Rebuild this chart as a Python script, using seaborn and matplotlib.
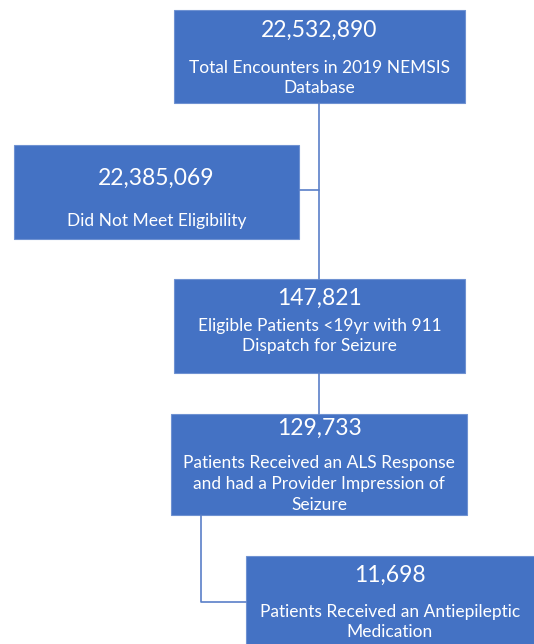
import matplotlib
matplotlib.use("Agg")
import matplotlib.pyplot as plt
import matplotlib.patches as mpatches
import seaborn as sns

# valores del diagrama de flujo
conteos = ["22,532,890", "22,385,069", "147,821", "129,733", "11,698"]
etiquetas = [
    "Total Encounters in 2019 NEMSIS\nDatabase",
    "Did Not Meet Eligibility",
    "Eligible Patients <19yr with 911\nDispatch for Seizure",
    "Patients Received an ALS Response\nand had a Provider Impression of\nSeizure",
    "Patients Received an Antiepileptic\nMedication",
]

# cajas en pixeles: x0, y0, x1, y1
cajas = [
    (174, 10, 465, 103),
    (14, 145, 299, 239),
    (174, 279, 465, 373),
    (171, 414, 467, 515),
    (246, 556, 540, 650),
]
# posicion vertical del numero y de la etiqueta
y_num = [30, 178, 298, 428, 575]
y_lab = [78, 221, 336, 484, 622]

sns.set_theme(style="white")
plt.rcParams['font.family'] = ['Lato', 'DejaVu Sans']

azul = "#4472C4"
linea = "#5A7FC8"

fig = plt.figure(figsize=(5.34, 6.44), dpi=100)
ax = fig.add_axes([0, 0, 1, 1])
ax.set_xlim(0, 534)
ax.set_ylim(644, 0)
ax.axis("off")

# conectores
ax.plot([319, 319], [103, 279], color=linea, lw=1.2)
ax.plot([299, 319], [190, 190], color=linea, lw=1.2)
ax.plot([319, 319], [373, 414], color=linea, lw=1.2)
ax.plot([201, 201, 246], [515, 602, 602], color=linea, lw=1.2)

for (x0, y0, x1, y1), n, t, yn, yl in zip(cajas, conteos, etiquetas, y_num, y_lab):
    ax.add_patch(mpatches.Rectangle((x0, y0), x1 - x0, y1 - y0, facecolor=azul,
                                    edgecolor="#6F92D2", lw=0.8))
    cx = (x0 + 534) / 2 if x1 > 534 else (x0 + x1) / 2
    ax.text(cx, yn, n, color="white", fontsize=16.5, ha="center", va="center")
    ax.text(cx, yl, t, color="white", fontsize=12.5, ha="center", va="center",
            linespacing=1.35)

fig.savefig("out.png", dpi=100)
